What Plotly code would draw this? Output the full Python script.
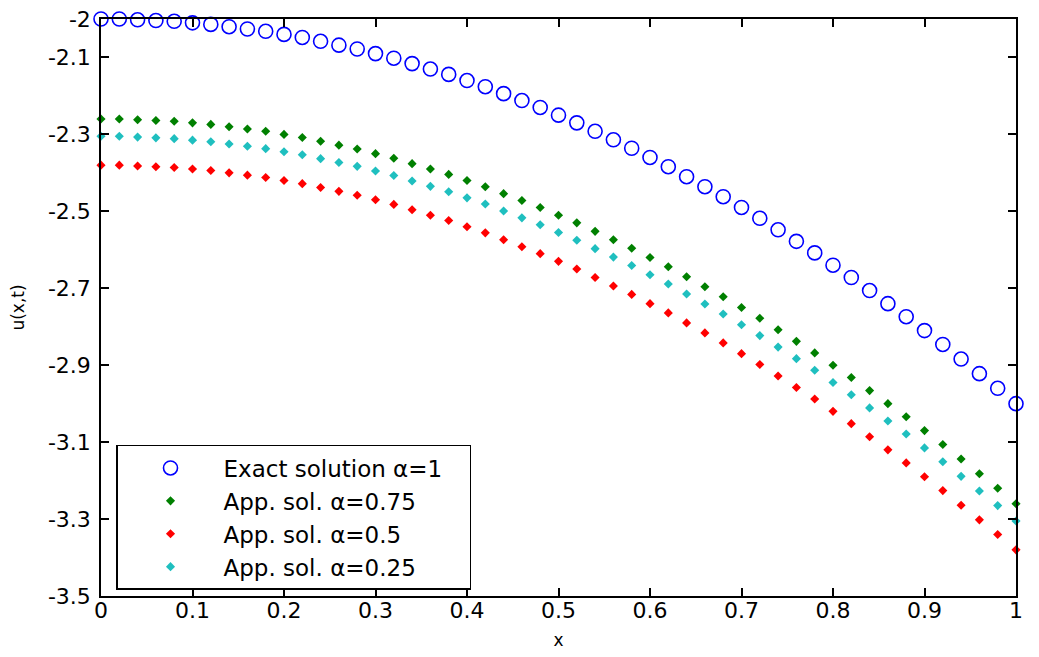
import plotly.graph_objects as go

x_vals = [0.00, 0.02, 0.04, 0.06, 0.08, 0.10, 0.12, 0.14, 0.16, 0.18,
          0.20, 0.22, 0.24, 0.26, 0.28, 0.30, 0.32, 0.34, 0.36, 0.38,
          0.40, 0.42, 0.44, 0.46, 0.48, 0.50, 0.52, 0.54, 0.56, 0.58,
          0.60, 0.62, 0.64, 0.66, 0.68, 0.70, 0.72, 0.74, 0.76, 0.78,
          0.80, 0.82, 0.84, 0.86, 0.88, 0.90, 0.92, 0.94, 0.96, 0.98, 1.00]

exact_a1 = [-2.000, -2.000, -2.002, -2.004, -2.006, -2.010, -2.014, -2.020, -2.026, -2.032,
            -2.040, -2.048, -2.058, -2.068, -2.078, -2.090, -2.102, -2.116, -2.130, -2.144,
            -2.160, -2.176, -2.194, -2.212, -2.230, -2.250, -2.270, -2.292, -2.314, -2.336,
            -2.360, -2.384, -2.410, -2.436, -2.462, -2.490, -2.518, -2.548, -2.578, -2.608,
            -2.640, -2.672, -2.706, -2.740, -2.774, -2.810, -2.846, -2.884, -2.922, -2.960, -3.000]

app_a075 = [-2.260, -2.260, -2.262, -2.264, -2.266, -2.270, -2.274, -2.280, -2.286, -2.292,
            -2.300, -2.308, -2.318, -2.328, -2.338, -2.350, -2.362, -2.376, -2.390, -2.404,
            -2.420, -2.436, -2.454, -2.472, -2.490, -2.510, -2.530, -2.552, -2.574, -2.596,
            -2.620, -2.644, -2.670, -2.696, -2.722, -2.750, -2.778, -2.808, -2.838, -2.868,
            -2.900, -2.932, -2.966, -3.000, -3.034, -3.070, -3.106, -3.144, -3.182, -3.220, -3.260]

app_a05 = [-2.380, -2.380, -2.382, -2.384, -2.386, -2.390, -2.394, -2.400, -2.406, -2.412,
           -2.420, -2.428, -2.438, -2.448, -2.458, -2.470, -2.482, -2.496, -2.510, -2.524,
           -2.540, -2.556, -2.574, -2.592, -2.610, -2.630, -2.650, -2.672, -2.694, -2.716,
           -2.740, -2.764, -2.790, -2.816, -2.842, -2.870, -2.898, -2.928, -2.958, -2.988,
           -3.020, -3.052, -3.086, -3.120, -3.154, -3.190, -3.226, -3.264, -3.302, -3.340, -3.380]

app_a025 = [-2.305, -2.305, -2.307, -2.309, -2.311, -2.315, -2.319, -2.325, -2.331, -2.337,
            -2.345, -2.353, -2.363, -2.373, -2.383, -2.395, -2.407, -2.421, -2.435, -2.449,
            -2.465, -2.481, -2.499, -2.517, -2.535, -2.555, -2.575, -2.597, -2.619, -2.641,
            -2.665, -2.689, -2.715, -2.741, -2.767, -2.795, -2.823, -2.853, -2.883, -2.913,
            -2.945, -2.977, -3.011, -3.045, -3.079, -3.115, -3.151, -3.189, -3.227, -3.265, -3.305]

series_names = ["Exact solution \u03b1=1", "App. sol. \u03b1=0.75", "App. sol. \u03b1=0.5", "App. sol. \u03b1=0.25"]

x_ticks = [0, 0.1, 0.2, 0.3, 0.4, 0.5, 0.6, 0.7, 0.8, 0.9, 1]
x_ticklabels = ["0", "0.1", "0.2", "0.3", "0.4", "0.5", "0.6", "0.7", "0.8", "0.9", "1"]
y_ticks = [-3.5, -3.3, -3.1, -2.9, -2.7, -2.5, -2.3, -2.1, -2.0]
y_ticklabels = ["-3.5", "-3.3", "-3.1", "-2.9", "-2.7", "-2.5", "-2.3", "-2.1", "-2"]

FONT = "DejaVu Sans"
PAD = "\u00a0\u00a0\u00a0"  # keeps the legend box as wide as the reference

fig = go.Figure()
fig.add_trace(go.Scatter(
    x=x_vals, y=exact_a1, mode="markers", name=series_names[0] + PAD, cliponaxis=False,
    marker=dict(symbol="circle-open", size=14, color="#0000FF", line=dict(width=1.6, color="#0000FF"))))
fig.add_trace(go.Scatter(
    x=x_vals, y=app_a075, mode="markers", name=series_names[1], cliponaxis=False,
    marker=dict(symbol="diamond", size=7, color="#008000", line=dict(width=0))))
fig.add_trace(go.Scatter(
    x=x_vals, y=app_a05, mode="markers", name=series_names[2], cliponaxis=False,
    marker=dict(symbol="diamond", size=7, color="#FF0000", line=dict(width=0))))
fig.add_trace(go.Scatter(
    x=x_vals, y=app_a025, mode="markers", name=series_names[3], cliponaxis=False,
    marker=dict(symbol="diamond", size=7, color="#1FBFBF", line=dict(width=0))))

axis_common = dict(
    showline=True, linecolor="black", linewidth=1.5, mirror="ticks",
    ticks="inside", ticklen=8, tickwidth=1.5, tickcolor="black",
    showgrid=False, zeroline=False, ticklabeloverflow="allow",
    tickfont=dict(family=FONT, size=22, color="black"),
)

fig.update_xaxes(
    range=[0, 1], tickvals=x_ticks, ticktext=x_ticklabels, ticklabelstandoff=-6,
    title=dict(text="x", font=dict(family=FONT, size=17, color="black"), standoff=12),
    **axis_common)
fig.update_yaxes(
    range=[-3.5, -2.0], tickvals=y_ticks, ticktext=y_ticklabels, ticklabelstandoff=4,
    title=dict(text="u(x,t)", font=dict(family=FONT, size=17, color="black"), standoff=20),
    **axis_common)

# page body has an 8px default margin, so the figure is sized to fit the window
fig.update_layout(
    width=1031, height=649,
    margin=dict(l=93, r=23, t=11, b=61, autoexpand=False),
    paper_bgcolor="white", plot_bgcolor="white",
    showlegend=True,
    legend=dict(
        x=0.0164, y=0.2617, xanchor="left", yanchor="top",
        bgcolor="white", bordercolor="black", borderwidth=1.5,
        font=dict(family=FONT, size=23, color="black"),
        itemwidth=96,
    ),
)

fig.write_html("out.html")
